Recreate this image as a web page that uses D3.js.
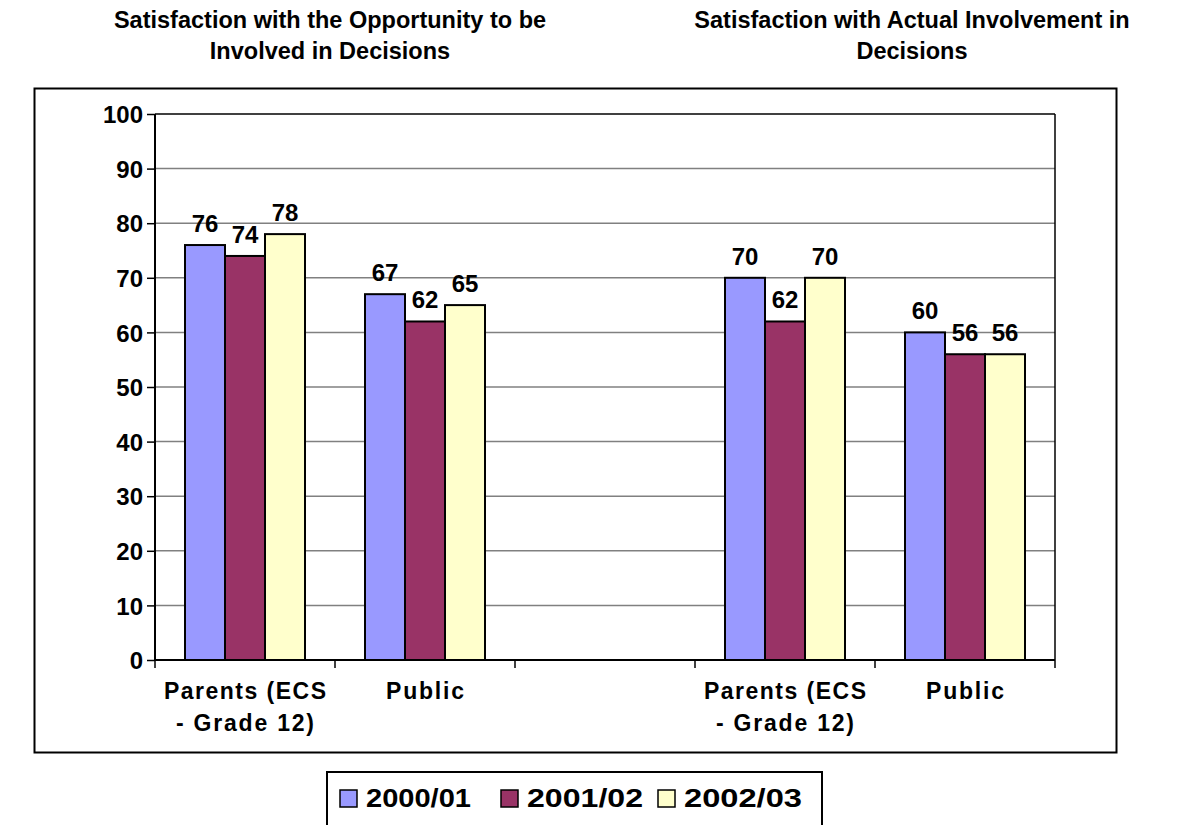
<!DOCTYPE html>
<html><head><meta charset="utf-8">
<script src="https://cdn.jsdelivr.net/npm/d3@7"></script>
<style>body{margin:0;background:#fff}svg{display:block}text{font-family:Arial,"Liberation Sans",sans-serif;font-weight:bold;fill:#000}</style>
</head><body><svg id="c" width="1189" height="825"></svg>
<script>
const categories = [["Parents (ECS", "- Grade 12)"], ["Public"], [], ["Parents (ECS", "- Grade 12)"], ["Public"]];
const seriesNames = ["2000/01", "2001/02", "2002/03"];
const values2000 = [76, 67, null, 70, 60];
const values2001 = [74, 62, null, 62, 56];
const values2002 = [78, 65, null, 70, 56];
const colors = ["#9999FF", "#993366", "#FFFFCC"];
const titleLines1 = ["Satisfaction with the Opportunity to be", "Involved in Decisions"];
const titleLines2 = ["Satisfaction with Actual Involvement in", "Decisions"];
const yTicks = [0,10,20,30,40,50,60,70,80,90,100];

const svg = d3.select("#c");
const L = 155, R = 1055, T = 114, B = 660;
const seriesVals = [values2000, values2001, values2002];
const FF = "Arial, 'Liberation Sans', sans-serif";

// outer box
svg.append("rect").attr("x",34.5).attr("y",88.5).attr("width",1082).attr("height",664)
  .attr("fill","none").attr("stroke","#000").attr("stroke-width",2);

// titles
const titleSpecs = [
  {lines: titleLines1, cx: 330},
  {lines: titleLines2, cx: 912}
];
titleSpecs.forEach(t => {
  t.lines.forEach((ln,i) => svg.append("text").attr("x",t.cx).attr("y",28+i*31)
    .attr("text-anchor","middle").attr("font-size",23.5).text(ln));
});

const y = d3.scaleLinear().domain([0,100]).range([B,T]);
const x0 = d3.scaleBand().domain(d3.range(categories.length)).range([L,R]).paddingInner(0).paddingOuter(0);
const x1 = d3.scaleBand().domain(d3.range(seriesNames.length)).range([30, x0.bandwidth()-30]).padding(0);

// gridlines
svg.append("g").selectAll("line").data(yTicks.filter(d=>d>0)).join("line")
  .attr("x1",L).attr("x2",R).attr("y1",d=>y(d)).attr("y2",d=>y(d))
  .attr("stroke",d=>d===100?"#000":"#808080").attr("stroke-width",1.5);
// right border
svg.append("line").attr("x1",R).attr("x2",R).attr("y1",T).attr("y2",B).attr("stroke","#000").attr("stroke-width",1.5);

// bars
const g = svg.append("g");
categories.forEach((c,ci) => {
  seriesVals.forEach((arr,si) => {
    const v = arr[ci];
    if (v == null) return;
    const bx = x0(ci) + x1(si);
    g.append("rect").attr("x",bx).attr("y",y(v)).attr("width",x1.bandwidth()).attr("height",y(0)-y(v))
      .attr("fill",colors[si]).attr("stroke","#000").attr("stroke-width",2);
    g.append("text").attr("x",bx + x1.bandwidth()/2).attr("y",y(v)-13).attr("text-anchor","middle")
      .attr("font-size",24).text(v);
  });
});

// y axis
const yAxis = svg.append("g").attr("transform",`translate(${L},0)`)
  .call(d3.axisLeft(y).tickValues(yTicks).tickSize(8).tickPadding(4));
yAxis.select(".domain").attr("stroke","#000").attr("stroke-width",2).attr("d",`M0,${T}V${B}`);
yAxis.selectAll(".tick line").attr("stroke","#000").attr("stroke-width",1.5);
yAxis.selectAll(".tick text").attr("font-size",24).attr("font-family",FF)
  .attr("font-weight","bold").attr("fill","#000").attr("dy","0.36em");

// x axis
const xAxis = svg.append("g").attr("transform",`translate(0,${B})`);
xAxis.append("line").attr("x1",L).attr("x2",R).attr("stroke","#000").attr("stroke-width",2);
const bounds = d3.range(categories.length+1).map(i => i<categories.length ? x0(i) : R);
xAxis.selectAll("line.tk").data(bounds).join("line").attr("class","tk")
  .attr("x1",d=>d).attr("x2",d=>d).attr("y1",0).attr("y2",8).attr("stroke","#000").attr("stroke-width",1.5);
const catLens = {"Parents (ECS":162, "- Grade 12)":138, "Public":78};
categories.forEach((c,ci) => {
  c.forEach((ln,li) => xAxis.append("text").attr("x",x0(ci)+x0.bandwidth()/2).attr("y",39+li*32)
    .attr("text-anchor","middle").attr("font-size",23)
    .attr("textLength",catLens[ln]).attr("lengthAdjust","spacing").text(ln));
});

// legend
const lg = svg.append("g");
lg.append("rect").attr("x",327).attr("y",772).attr("width",495).attr("height",80)
  .attr("fill","#fff").attr("stroke","#000").attr("stroke-width",2);
const legX = [340, 501, 658];
const legLens = [109, 120, 122];
seriesNames.forEach((s,i) => {
  lg.append("rect").attr("x",legX[i]).attr("y",790).attr("width",17).attr("height",17)
    .attr("fill",colors[i]).attr("stroke","#000").attr("stroke-width",1.5);
  lg.append("text").attr("x",legX[i]+26).attr("y",807).attr("font-size",25)
    .attr("textLength",legLens[i]-4).attr("lengthAdjust","spacingAndGlyphs").text(s);
});
</script></body></html>
